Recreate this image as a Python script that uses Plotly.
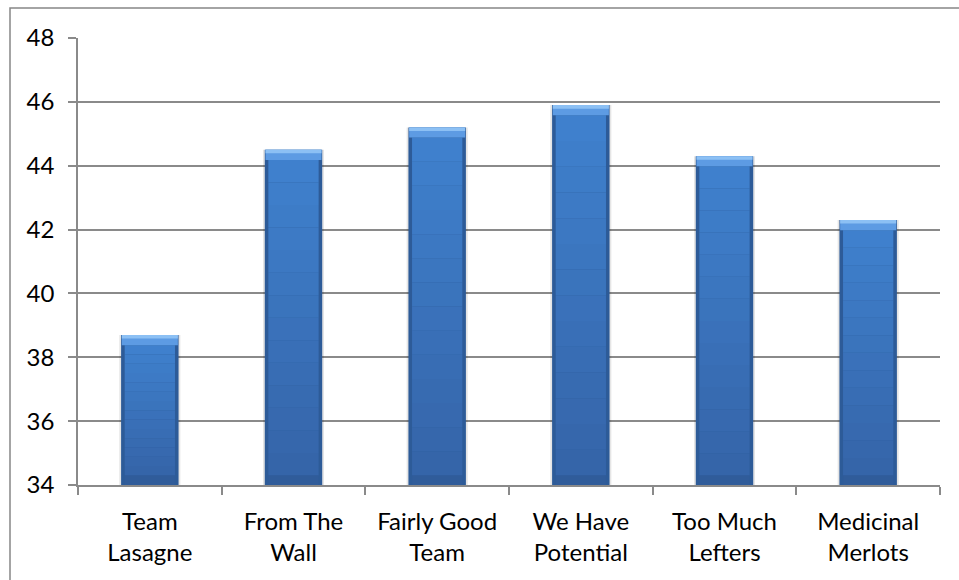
import plotly.graph_objects as go

# Team scores
teams = ["Team<br>Lasagne", "From The<br>Wall", "Fairly Good<br>Team",
         "We Have<br>Potential", "Too Much<br>Lefters", "Medicinal<br>Merlots"]
scores = [38.7, 44.5, 45.2, 45.9, 44.3, 42.3]

y_min, y_max, y_step = 34, 48, 2
y_ticks = list(range(y_min, y_max + 1, y_step))

FONT = "Lato"
FONT_SIZE = 24
AXIS_GREY = "#8a8a8a"

BAR_W = 0.40        # outer bar width (category fraction)
FACE_W = 0.35       # inner face width
TOP_BEVEL = 0.32    # data units
BOTTOM_BEVEL = 0.30
N_SLICES = 14

fig = go.Figure()

# soft drop shadow
fig.add_trace(go.Bar(
    x=teams, y=[v - y_min for v in scores], base=[y_min] * len(scores),
    width=BAR_W + 0.025, marker=dict(color="rgba(0,0,0,0.10)", line=dict(width=0)),
    hoverinfo="skip", showlegend=False))

# dark outer edge of each bar
fig.add_trace(go.Bar(
    x=teams, y=[v - y_min for v in scores], base=[y_min] * len(scores),
    width=BAR_W, marker=dict(color="#2d5b98", line=dict(width=0)),
    name="Score", showlegend=False))


def mix(c1, c2, t):
    a = [int(c1[i:i + 2], 16) for i in (1, 3, 5)]
    b = [int(c2[i:i + 2], 16) for i in (1, 3, 5)]
    return "#" + "".join(f"{round(a[k] + (b[k] - a[k]) * t):02x}" for k in range(3))


# front face with a vertical gradient, sliced between the bevels
for k in range(N_SLICES):
    lo = [y_min + BOTTOM_BEVEL + (v - y_min - TOP_BEVEL - BOTTOM_BEVEL) * k / N_SLICES
          for v in scores]
    hi = [y_min + BOTTOM_BEVEL + (v - y_min - TOP_BEVEL - BOTTOM_BEVEL) * (k + 1) / N_SLICES
          for v in scores]
    col = mix("#3565a9", "#3f80cd", k / (N_SLICES - 1))
    fig.add_trace(go.Bar(
        x=teams, y=[h - l for h, l in zip(hi, lo)], base=lo,
        width=FACE_W, marker=dict(color=col, line=dict(width=0)),
        hoverinfo="skip", showlegend=False))

# top bevel (light) and bottom bevel (dark)
fig.add_trace(go.Bar(
    x=teams, y=[TOP_BEVEL] * len(scores), base=[v - TOP_BEVEL for v in scores],
    width=BAR_W - 0.01, marker=dict(color="#5d9be3", line=dict(width=0)),
    hoverinfo="skip", showlegend=False))
fig.add_trace(go.Bar(
    x=teams, y=[TOP_BEVEL * 0.35] * len(scores), base=[v - TOP_BEVEL * 0.35 for v in scores],
    width=BAR_W - 0.01, marker=dict(color="#8cc0f4", line=dict(width=0)),
    hoverinfo="skip", showlegend=False))
fig.add_trace(go.Bar(
    x=teams, y=[BOTTOM_BEVEL] * len(scores), base=[y_min] * len(scores),
    width=FACE_W, marker=dict(color="#305c9a", line=dict(width=0)),
    hoverinfo="skip", showlegend=False))

fig.update_layout(
    width=959, height=580,
    margin=dict(l=78, r=19, t=38, b=95),
    paper_bgcolor="white", plot_bgcolor="white",
    barmode="overlay",
    font=dict(family=FONT, size=FONT_SIZE, color="#000000"),
    xaxis=dict(
        type="category", showgrid=False,
        showline=True, linecolor=AXIS_GREY, linewidth=1.5,
        ticks="outside", tickson="boundaries", ticklen=8,
        tickcolor=AXIS_GREY, tickwidth=1.5, ticklabelstandoff=14,
        tickfont=dict(family=FONT, size=FONT_SIZE, color="#000000"),
    ),
    yaxis=dict(
        range=[y_min, y_max], tickvals=y_ticks,
        showgrid=True, gridcolor=AXIS_GREY, gridwidth=1.5,
        showline=True, linecolor=AXIS_GREY, linewidth=1.5,
        ticks="outside", ticklen=8, tickcolor=AXIS_GREY, tickwidth=1.5,
        ticklabelstandoff=9, zeroline=False,
        tickfont=dict(family=FONT, size=FONT_SIZE, color="#000000"),
    ),
    shapes=[dict(
        type="rect", xref="paper", yref="paper",
        x0=-68 / 862, x1=1.1, y0=-0.3, y1=1 + 30 / 447,
        line=dict(color="#868686", width=1.5), fillcolor="rgba(0,0,0,0)",
        layer="below")],
)

fig.write_html("out.html")
